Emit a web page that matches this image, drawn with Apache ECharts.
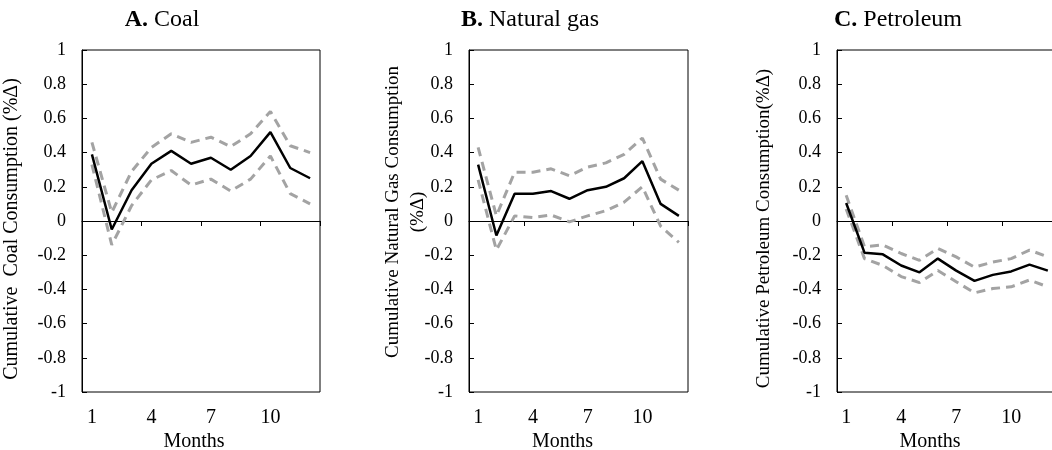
<!DOCTYPE html>
<html>
<head>
<meta charset="utf-8">
<script src="https://cdn.jsdelivr.net/npm/echarts@6/dist/echarts.min.js"></script>
<style>
html,body{margin:0;padding:0;background:#fff;}
#main{width:1052px;height:450px;}
</style>
</head>
<body>
<div id="main"></div>
<script>
var months = ['1','2','3','4','5','6','7','8','9','10','11','12'];

// A. Coal
var coalMid = [0.39, -0.05, 0.18, 0.335, 0.41, 0.335, 0.37, 0.30, 0.38, 0.52, 0.31, 0.25];
var coalUp  = [0.46, 0.05, 0.29, 0.43, 0.51, 0.46, 0.49, 0.435, 0.51, 0.64, 0.44, 0.40];
var coalLow = [0.33, -0.14, 0.09, 0.24, 0.295, 0.21, 0.245, 0.175, 0.245, 0.38, 0.16, 0.10];

// B. Natural gas
var gasMid = [0.33, -0.085, 0.16, 0.16, 0.175, 0.13, 0.18, 0.20, 0.25, 0.35, 0.10, 0.03];
var gasUp  = [0.43, 0.03, 0.285, 0.285, 0.305, 0.265, 0.315, 0.34, 0.39, 0.485, 0.245, 0.18];
var gasLow = [0.24, -0.17, 0.03, 0.02, 0.035, -0.005, 0.03, 0.06, 0.11, 0.20, -0.03, -0.125];

// C. Petroleum
var petMid = [0.105, -0.185, -0.195, -0.26, -0.30, -0.22, -0.29, -0.35, -0.315, -0.295, -0.255, -0.29];
var petUp  = [0.15, -0.15, -0.14, -0.19, -0.23, -0.16, -0.21, -0.27, -0.24, -0.22, -0.17, -0.21];
var petLow = [0.07, -0.22, -0.26, -0.325, -0.36, -0.29, -0.355, -0.42, -0.395, -0.385, -0.345, -0.385];

var font = '"Liberation Serif", "Times New Roman", serif';

var chart = echarts.init(document.getElementById('main'));

// yPad: [top, right, bottom, left] on the rotated name, moves it along the axis
var panels = [
	{grid:{left:82, top:50, width:238, height:342}, title:'{b|A.} Coal', tx:162,
	 yName:'Cumulative  Coal Consumption (%\u0394)', yGap:58, yFont:20, yPad:[0,16,0,0], mShift:14,
	 mid:coalMid, up:coalUp, low:coalLow},
	{grid:{left:469, top:50, width:219, height:342}, title:'{b|B.} Natural gas', tx:530,
	 yName:'Cumulative Natural Gas Consumption\n(%\u0394)', yGap:38, yFont:19, yPad:[0,0,0,18], mShift:32,
	 mid:gasMid, up:gasUp, low:gasLow},
	{grid:{left:837, top:50, width:220, height:342}, title:'{b|C.} Petroleum', tx:898,
	 yName:'Cumulative Petroleum Consumption(%\u0394)', yGap:60, yFont:19, yPad:[0,15,0,0], mShift:34,
	 mid:petMid, up:petUp, low:petLow}
];

var option = {
	animation: false,
	backgroundColor: '#fff',
	grid: [], xAxis: [], yAxis: [], series: [], graphic: []
};

panels.forEach(function(p, i){
	option.grid.push(Object.assign({
		show:true, borderColor:'#000', borderWidth:1, backgroundColor:'transparent',
		containLabel:false, outerBoundsMode:'none'
	}, p.grid));

	// zero line with ticks
	option.xAxis.push({
		type:'category', gridIndex:i, data:months, position:'bottom',
		axisLine:{onZero:true, lineStyle:{color:'#000', width:1}},
		axisTick:{show:true, interval:2, length:5, lineStyle:{color:'#000'}},
		axisLabel:{show:false}
	});
	// month labels at the bottom
	option.xAxis.push({
		type:'category', gridIndex:i, data:months, position:'bottom',
		axisLine:{show:false, onZero:false}, axisTick:{show:false},
		axisLabel:{interval:2, margin:16, color:'#000', fontFamily:font, fontSize:20},
		name:'Months', nameLocation:'middle', nameGap:40, nameMoveOverlap:false,
		nameTextStyle:{color:'#000', fontFamily:font, fontSize:20, padding:[0, p.mShift, 0, 0]}
	});
	option.yAxis.push({
		type:'value', gridIndex:i, min:-1, max:1, interval:0.2,
		axisLine:{show:true, lineStyle:{color:'#000'}},
		axisTick:{show:true, inside:true, length:5, lineStyle:{color:'#000'}},
		splitLine:{show:false},
		axisLabel:{color:'#000', fontFamily:font, fontSize:18, margin:16},
		name:p.yName, nameLocation:'middle', nameGap:p.yGap, nameRotate:90, nameMoveOverlap:false,
		nameTextStyle:{color:'#000', fontFamily:font, fontSize:p.yFont, lineHeight:25, padding:p.yPad}
	});

	var lines = [
		{data:p.up, dash:true}, {data:p.low, dash:true}, {data:p.mid, dash:false}
	];
	lines.forEach(function(l){
		option.series.push({
			type:'line', xAxisIndex:i * 2, yAxisIndex:i, data:l.data,
			symbol:'none', silent:true,
			lineStyle: l.dash
				? {color:'#a3a3a3', width:3, type:[9, 6]}
				: {color:'#000', width:2.5, type:'solid'},
			z: l.dash ? 2 : 3
		});
	});

	option.graphic.push({
		type:'text', x:p.tx, y:20,
		style:{
			text:p.title, align:'center', verticalAlign:'middle',
			fontFamily:font, fontSize:24, fill:'#000',
			rich:{b:{fontFamily:font, fontSize:24, fontWeight:'bold', fill:'#000'}}
		}
	});
});

chart.setOption(option);
</script>
</body>
</html>
